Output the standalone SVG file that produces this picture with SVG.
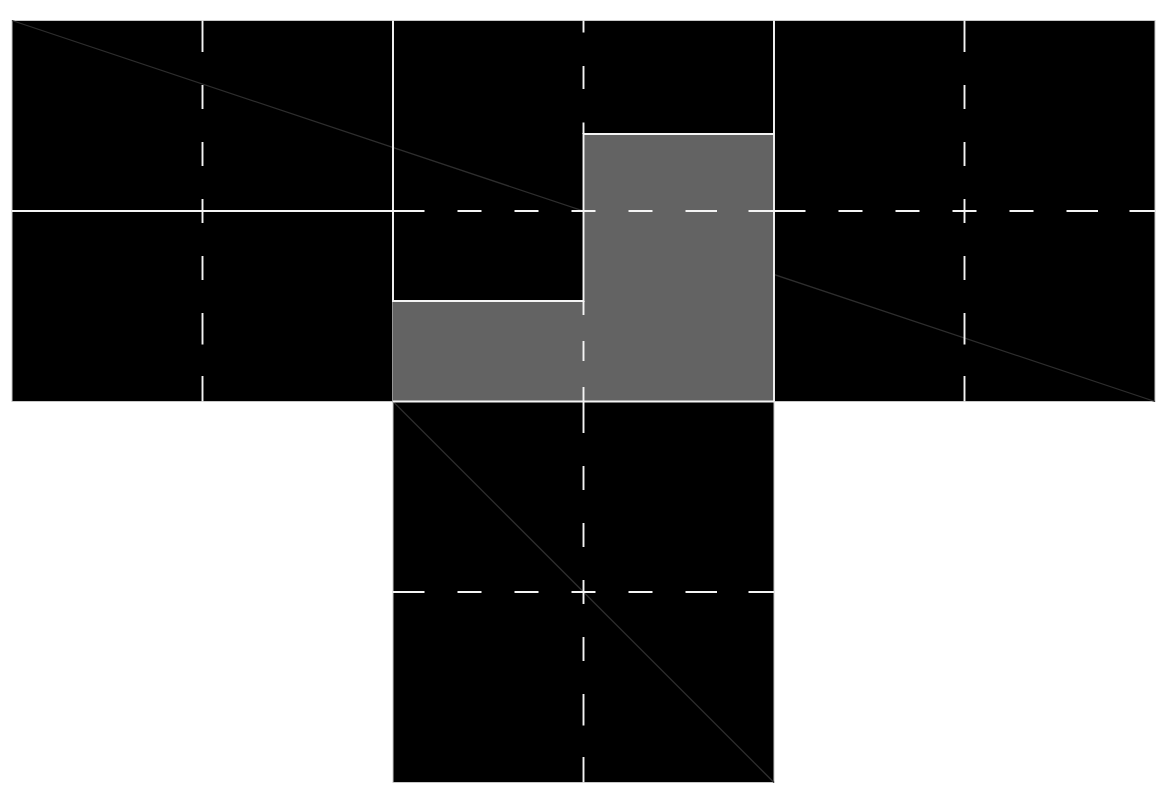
<svg xmlns="http://www.w3.org/2000/svg" width="1157" height="788" viewBox="0 0 1157 788">
  <style>
    .sq { fill: #000; stroke: #c8c8c8; stroke-width: 1; }
    .diag { stroke: #2e2e2e; stroke-width: 1.3; fill: none; }
    .shade { fill: #636363; stroke: none; }
    .edge { stroke: #f4f4f4; stroke-width: 1.9; fill: none; }
    .dash { stroke: #f4f4f4; stroke-width: 1.9; fill: none; }
    .d381 { stroke-dasharray: 31.5 33 24 33 24 33 24 33 24 33 31.5; }
  </style>
  <rect width="1157" height="788" fill="#fff"/>
  <g id="square-left"><rect class="sq" x="12" y="20.5" width="381" height="381"/></g>
  <g id="square-middle"><rect class="sq" x="393" y="20.5" width="381" height="381"/></g>
  <g id="square-right"><rect class="sq" x="774" y="20.5" width="381" height="381"/></g>
  <g id="square-bottom"><rect class="sq" x="393" y="401.5" width="381" height="381"/></g>
  <g id="diagonals">
    <line class="diag" x1="12" y1="20.5" x2="1155" y2="401.5"/>
    <line class="diag" x1="393" y1="401.5" x2="774" y2="782.5"/>
  </g>
  <g id="shaded-region">
    <polygon class="shade" points="393,301 583.5,301 583.5,134 774,134 774,401.5 393,401.5"/>
  </g>
  <g id="connectors">
    <line class="edge" x1="12" y1="211" x2="393" y2="211"/>
    <polyline class="edge" points="393,20.5 393,301 583.5,301 583.5,134 774,134"/>
    <line class="edge" x1="774" y1="20.5" x2="774" y2="401.5"/>
    <line class="edge" x1="393" y1="401.5" x2="774" y2="401.5"/>
    <line class="dash d381" x1="202.5" y1="20.5" x2="202.5" y2="401.5"/>
    <line class="dash d381" x1="393" y1="211" x2="774" y2="211"/>
    <line class="dash d381" x1="774" y1="211" x2="1155" y2="211"/>
    <line class="dash d381" x1="964.5" y1="20.5" x2="964.5" y2="401.5"/>
    <line class="dash" stroke-dasharray="12 33.5 23 33.5 11.5" x1="583.5" y1="20.5" x2="583.5" y2="134"/>
    <line class="dash" stroke-dasharray="14 26 20 26 14.5" x1="583.5" y1="301" x2="583.5" y2="401.5"/>
    <line class="dash d381" x1="583.5" y1="401.5" x2="583.5" y2="782.5"/>
    <line class="dash d381" x1="393" y1="592" x2="774" y2="592"/>
  </g>
</svg>
